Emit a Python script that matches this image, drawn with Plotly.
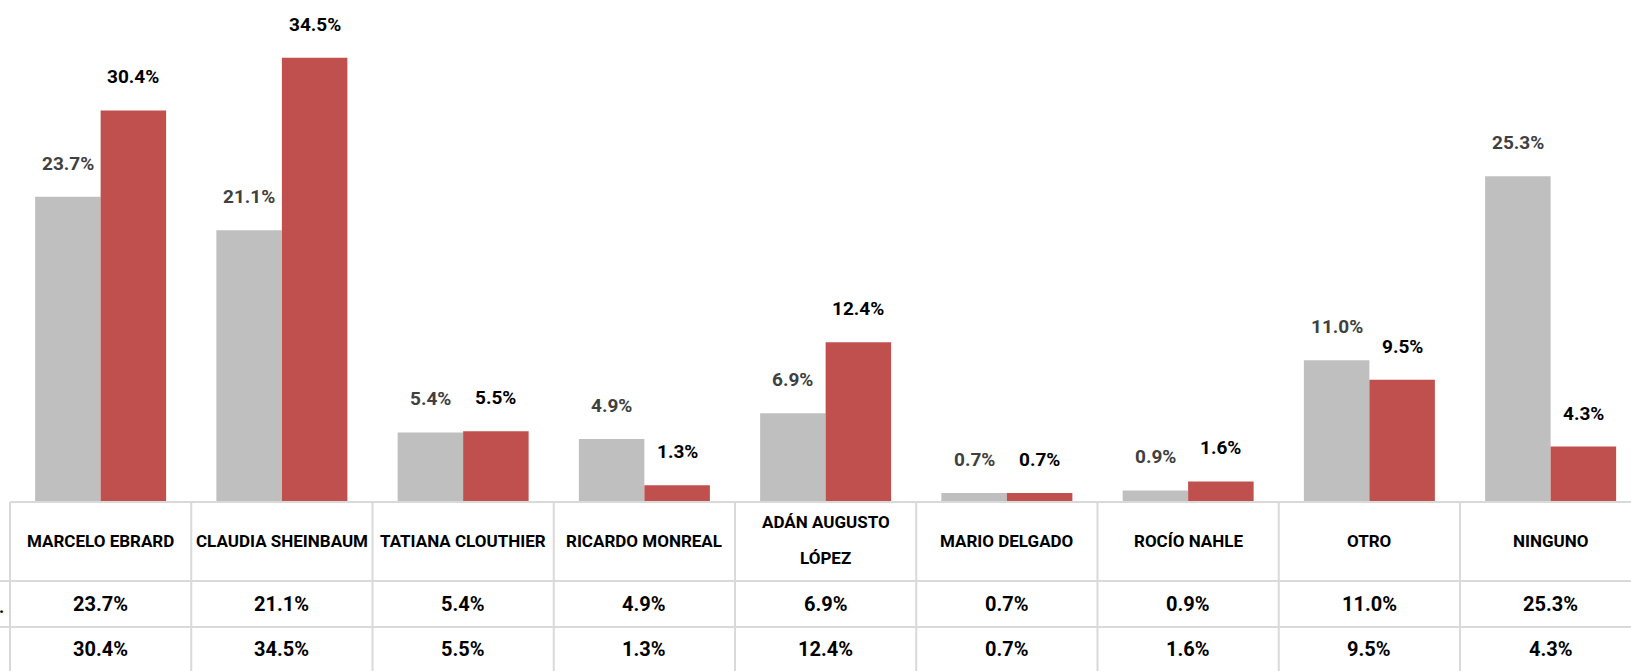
import plotly.graph_objects as go

categories = ["MARCELO EBRARD", "CLAUDIA SHEINBAUM", "TATIANA CLOUTHIER", "RICARDO MONREAL",
              "ADÁN AUGUSTO LÓPEZ", "MARIO DELGADO", "ROCÍO NAHLE", "OTRO", "NINGUNO"]
header_lines = [["MARCELO EBRARD"], ["CLAUDIA SHEINBAUM"], ["TATIANA CLOUTHIER"], ["RICARDO MONREAL"],
                ["ADÁN AUGUSTO", "LÓPEZ"], ["MARIO DELGADO"], ["ROCÍO NAHLE"], ["OTRO"], ["NINGUNO"]]
series_a = [23.7, 21.1, 5.4, 4.9, 6.9, 0.7, 0.9, 11.0, 25.3]
series_b = [30.4, 34.5, 5.5, 1.3, 12.4, 0.7, 1.6, 9.5, 4.3]

W, H = 1631, 671
GRAY = "#bfbfbf"
RED = "#c0504d"
LINE = "#d9d9d9"
FONT = "Roboto, Liberation Sans, sans-serif"

col_px = 181.25
left_px = 10
axis_py = 502
px_per_unit = 12.88

x_lo = -0.5 - left_px / col_px
x_hi = -0.5 + (W - left_px) / col_px

def py(p):
    return 1 - p / H

xs = list(range(len(categories)))
fig = go.Figure()
fig.add_trace(go.Bar(x=xs, y=series_a, marker=dict(color=GRAY, line=dict(width=0)), name="A",
                     hoverinfo="skip"))
fig.add_trace(go.Bar(x=xs, y=series_b, marker=dict(color=RED, line=dict(width=0)), name="B",
                     hoverinfo="skip"))

bargap = 1 - 131 / col_px
half_bar = (1 - bargap) / 4

ann = []
for i, (a, b) in enumerate(zip(series_a, series_b)):
    ann.append(dict(x=i - half_bar, y=a, xref="x", yref="y", text=f"<b>{a:.1f}%</b>", showarrow=False,
                    yanchor="bottom", yshift=20, font=dict(family=FONT, size=19, color="#404040")))
    ann.append(dict(x=i + half_bar, y=b, xref="x", yref="y", text=f"<b>{b:.1f}%</b>", showarrow=False,
                    yanchor="bottom", yshift=20, font=dict(family=FONT, size=19, color="#000000")))
    lines = header_lines[i]
    if len(lines) == 1:
        ys = [541]
    else:
        ys = [522, 558]
    for t, yy in zip(lines, ys):
        ann.append(dict(x=i, y=py(yy), xref="x", yref="paper", text=f"<b>{t}</b>", showarrow=False,
                        yanchor="middle", font=dict(family=FONT, size=17, color="#000000")))
    ann.append(dict(x=i, y=py(604), xref="x", yref="paper", text=f"<b>{a:.1f}%</b>", showarrow=False,
                    yanchor="middle", font=dict(family=FONT, size=20, color="#000000")))
    ann.append(dict(x=i, y=py(649), xref="x", yref="paper", text=f"<b>{b:.1f}%</b>", showarrow=False,
                    yanchor="middle", font=dict(family=FONT, size=20, color="#000000")))

ann.append(dict(x=0, y=py(606), xref="paper", yref="paper", text="<b>.</b>", showarrow=False,
                xanchor="left", yanchor="middle", xshift=-3, font=dict(family=FONT, size=18, color="#000000")))

shapes = []
shapes.append(dict(type="line", xref="x", yref="paper", x0=-0.5, x1=x_hi + 1, y0=py(axis_py), y1=py(axis_py),
                   line=dict(color=LINE, width=2)))
for yy in (581, 627):
    shapes.append(dict(type="line", xref="paper", yref="paper", x0=0, x1=1, y0=py(yy), y1=py(yy),
                       line=dict(color=LINE, width=2)))
for k in range(len(categories) + 1):
    shapes.append(dict(type="line", xref="x", yref="paper", x0=k - 0.5, x1=k - 0.5, y0=py(axis_py), y1=-0.05,
                       line=dict(color=LINE, width=2)))

fig.update_layout(
    width=W, height=H,
    margin=dict(l=0, r=0, t=0, b=0, autoexpand=False),
    paper_bgcolor="white", plot_bgcolor="white",
    barmode="group", bargap=bargap, bargroupgap=0,
    showlegend=False,
    xaxis=dict(range=[x_lo, x_hi], showticklabels=False, showgrid=False, zeroline=False, showline=False,
               ticks=""),
    yaxis=dict(domain=[py(axis_py), 1], range=[0, axis_py / px_per_unit], showticklabels=False,
               showgrid=False, zeroline=False, showline=False, ticks=""),
    annotations=ann,
    shapes=shapes,
)

fig.write_html("out.html", config={"displayModeBar": False},
               post_script="document.body.style.margin='0px';")
